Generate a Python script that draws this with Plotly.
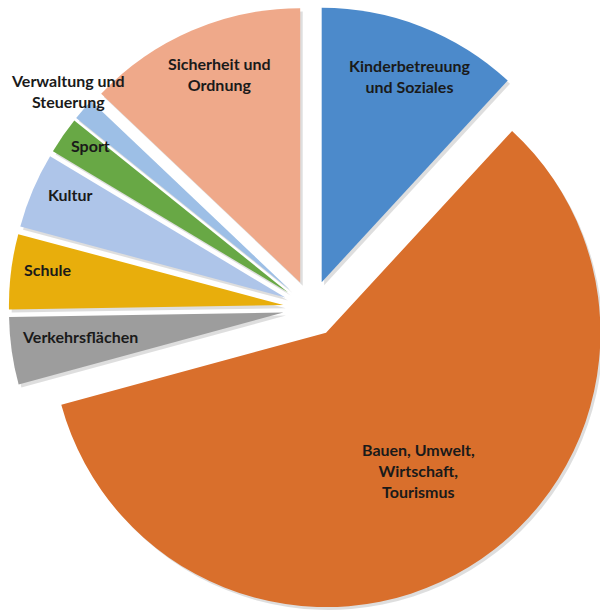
import math
import plotly.graph_objects as go

# Budget shares by department (percent of total)
categories = [
    "Kinderbetreuung und Soziales",
    "Bauen, Umwelt, Wirtschaft, Tourismus",
    "Verkehrsflächen",
    "Schule",
    "Kultur",
    "Sport",
    "Verwaltung und Steuerung",
    "Sicherheit und Ordnung",
]
shares = [11.86, 58.92, 3.97, 4.42, 4.44, 2.17, 1.31, 12.92]
label_text = [
    "Kinderbetreuung<br>und Soziales",
    "Bauen, Umwelt,<br>Wirtschaft,<br>Tourismus",
    "Verkehrsflächen",
    "Schule",
    "Kultur",
    "Sport",
    "Verwaltung und<br>Steuerung",
    "Sicherheit und<br>Ordnung",
]

colors = ["#4C8ACB", "#D96F2C", "#9D9D9D", "#E8AE0C",
          "#AEC5E9", "#68A845", "#9DBFE6", "#EFA98A"]
# label placement: radius fraction beyond the pull, and angular nudge (deg)
label_r = [0.816, 0.604, 0.746, 0.871, 0.868, 0.896, 1.087, 0.814]
label_turn = [1.6, -2.1, 1.2, 1.4, 2.3, 1.6, 0.6, 1.9]

# the chart runs slightly past the right edge of the view, cropping the big slice
W, H = 624, 614
PULL = 0.103
dom_x = [0.014, 0.984]
dom_y = [0.0, 0.995]
shadow_dom_x = [0.018, 0.988]
shadow_dom_y = [0.0, 0.985]

fig = go.Figure()

# soft drop shadow under the exploded slices
fig.add_trace(go.Pie(
    labels=categories, values=shares, sort=False, direction="clockwise",
    rotation=0, pull=[PULL] * len(shares), textinfo="none", hoverinfo="skip",
    marker=dict(colors=["rgba(0,0,0,0.13)"] * len(shares), line=dict(width=0)),
    domain=dict(x=shadow_dom_x, y=shadow_dom_y),
    showlegend=False,
))

fig.add_trace(go.Pie(
    labels=categories, values=shares, sort=False, direction="clockwise",
    rotation=0, pull=[PULL] * len(shares), textinfo="none",
    marker=dict(colors=colors, line=dict(width=0)),
    domain=dict(x=dom_x, y=dom_y),
    showlegend=False,
))

# geometry of the pie as plotly lays it out (zero margins)
box_w = W * (dom_x[1] - dom_x[0])
box_h = H * (dom_y[1] - dom_y[0])
r = min(box_w, box_h) / 2 / (1 + PULL)
cx = W * (dom_x[0] + dom_x[1]) / 2
cy = H * (1 - dom_y[0]) - box_h / 2

total = sum(shares)
start = 0.0
for val, txt, frac, turn in zip(shares, label_text, label_r, label_turn):
    mid = math.radians((start + val / 2) * 360 / total + turn)
    start += val
    dist = (PULL + frac) * r
    px = cx + dist * math.sin(mid)
    py = cy - dist * math.cos(mid)
    fig.add_annotation(
        x=px / W, y=1 - py / H, xref="paper", yref="paper",
        text=txt, showarrow=False, align="center",
        xanchor="center", yanchor="middle",
        font=dict(family="Lato", size=16, color="#1A1A1A", weight="bold"),
    )

fig.update_layout(
    width=W, height=H,
    margin=dict(l=0, r=0, t=0, b=0),
    paper_bgcolor="white", plot_bgcolor="white",
)

fig.write_html("out.html")
